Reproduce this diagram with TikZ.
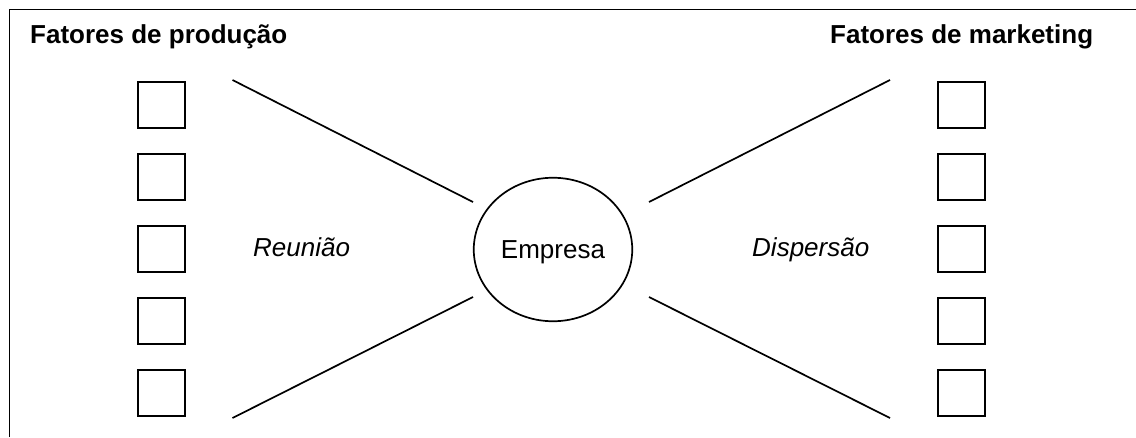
\documentclass[tikz,border=0pt]{standalone}
\usepackage{fontspec}
\setmainfont{Liberation Sans}
\usetikzlibrary{shapes.geometric}
\begin{document}
\begin{tikzpicture}[x=1pt,y=-1pt,
    every node/.style={font=\fontsize{26}{30}\selectfont},
    factorbox/.style={draw,line width=1.8pt,minimum width=47.5pt,minimum height=46.5pt,inner sep=0pt},
    heading/.style={anchor=base west,inner sep=0pt,font=\fontsize{26}{30}\selectfont\bfseries},
    flowlabel/.style={anchor=base west,inner sep=0pt,font=\fontsize{26}{30}\selectfont\itshape},
    ray/.style={line width=1.7pt},
    frame/.style={line width=1.9pt}]
  \useasboundingbox (0,0) rectangle (1136,437);
  % open frame: left and top edges only
  \draw[frame] (9.5,437) -- (9.5,9.5) -- (1136,9.5);

  % headings
  \node[heading] (prod) at (30,43) {Fatores de produção};
  \node[heading] (mkt) at (830,43) {Fatores de marketing};

  % the firm in the middle
  \node[draw,ellipse,line width=1.7pt,minimum width=158.5pt,minimum height=143.5pt,inner sep=0pt,text depth=0pt] (firm) at (553,249.5) {Empresa};

  % flow labels
  \node[flowlabel] (gather) at (253,256) {Reunião};
  \node[flowlabel] (spread) at (752,256) {Dispersão};

  % production factors (left) and marketing factors (right)
  \foreach \i/\y in {1/105,2/177,3/249,4/321,5/393}{
    \node[factorbox] (p\i) at (161.5,\y) {};
    \node[factorbox] (m\i) at (961.5,\y) {};
  }

  % ray end points
  \coordinate (lt) at (232.5,80);
  \coordinate (lb) at (232.5,418);
  \coordinate (rt) at (890,80);
  \coordinate (rb) at (890,418);
  \coordinate (flt) at (473,202);
  \coordinate (flb) at (473,297);
  \coordinate (frt) at (649,202);
  \coordinate (frb) at (649,297);

  \draw[ray] (lt) -- (flt);
  \draw[ray] (lb) -- (flb);
  \draw[ray] (rt) -- (frt);
  \draw[ray] (rb) -- (frb);
\end{tikzpicture}
\end{document}
